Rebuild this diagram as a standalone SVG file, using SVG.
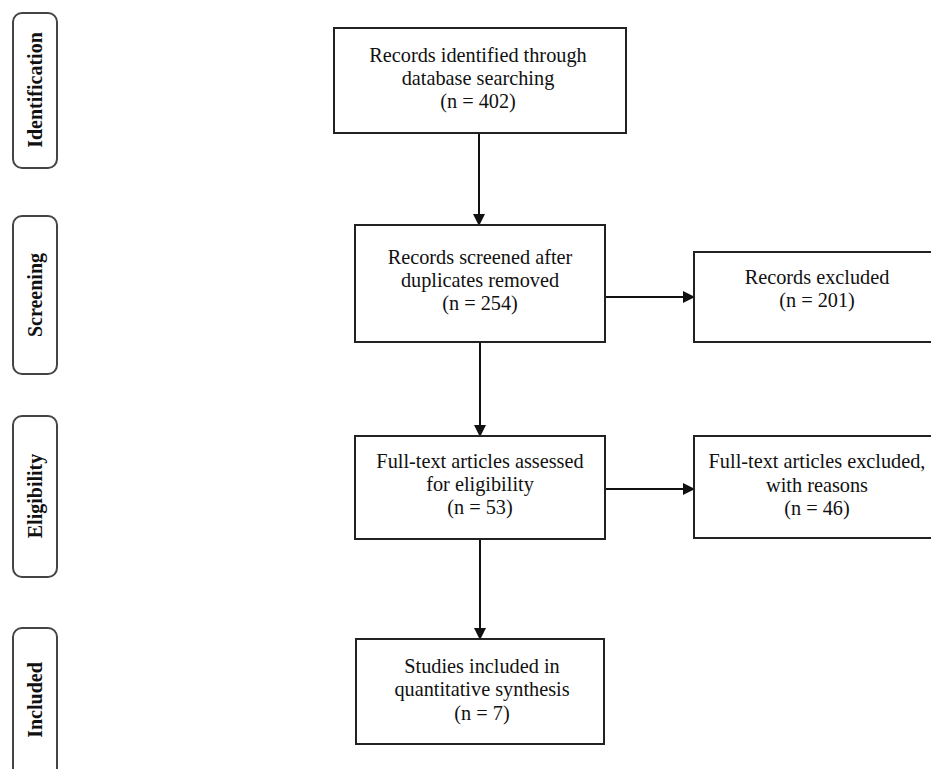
<svg xmlns="http://www.w3.org/2000/svg" width="931" height="769" viewBox="0 0 931 769">
<style>
.box{fill:#fff;stroke:#222;stroke-width:2}
.side{fill:#fff;stroke:#444;stroke-width:2}
.t{font-family:"Liberation Serif","Times New Roman",serif;font-size:20.3px;fill:#111;text-anchor:middle}
.s{font-family:"Liberation Serif","Times New Roman",serif;font-size:20px;font-weight:bold;fill:#111;text-anchor:middle}
.c{stroke:#111;stroke-width:2;fill:none;marker-end:url(#ah)}
</style>
<defs>
<marker id="ah" markerWidth="12" markerHeight="12" refX="11" refY="6" orient="auto" markerUnits="userSpaceOnUse">
<path d="M0,0 L12,6 L0,12 Z" fill="#111"/>
</marker>
</defs>
<rect width="931" height="769" fill="#fff"/>
<g id="identification"><rect class="side" x="13" y="13" width="44" height="155" rx="9"/><text class="s" transform="translate(42,90) rotate(-90)">Identification</text></g>
<g id="screening"><rect class="side" x="13" y="216" width="44" height="158" rx="9"/><text class="s" transform="translate(42,295) rotate(-90)">Screening</text></g>
<g id="eligibility"><rect class="side" x="13" y="416" width="44" height="161" rx="9"/><text class="s" transform="translate(42,496) rotate(-90)">Eligibility</text></g>
<g id="included"><rect class="side" x="13" y="628" width="44" height="160" rx="9"/><text class="s" transform="translate(42,700) rotate(-90)">Included</text></g>
<g id="connectors">
<line class="c" x1="479" y1="133" x2="479" y2="225"/>
<line class="c" x1="480" y1="342" x2="480" y2="436"/>
<line class="c" x1="480" y1="539" x2="480" y2="639"/>
<line class="c" x1="605" y1="297" x2="694" y2="297"/>
<line class="c" x1="605" y1="489" x2="694" y2="489"/>
</g>
<g id="n1"><rect class="box" x="334" y="28" width="292" height="105"/><text class="t" x="478" y="62">Records identified through</text><text class="t" x="478" y="85">database searching</text><text class="t" x="478" y="108">(n = 402)</text></g>
<g id="n2"><rect class="box" x="355" y="225" width="250" height="117"/><text class="t" x="480" y="264">Records screened after</text><text class="t" x="480" y="287">duplicates removed</text><text class="t" x="480" y="310">(n = 254)</text></g>
<g id="n3"><rect class="box" x="694" y="252" width="250" height="90"/><text class="t" x="817" y="284">Records excluded</text><text class="t" x="817" y="307">(n = 201)</text></g>
<g id="n4"><rect class="box" x="355" y="436" width="250" height="103"/><text class="t" x="480" y="468">Full-text articles assessed</text><text class="t" x="480" y="491">for eligibility</text><text class="t" x="480" y="514">(n = 53)</text></g>
<g id="n5"><rect class="box" x="694" y="436" width="250" height="102"/><text class="t" x="817" y="468">Full-text articles excluded,</text><text class="t" x="817" y="492">with reasons</text><text class="t" x="817" y="515">(n = 46)</text></g>
<g id="n6"><rect class="box" x="356" y="639" width="248" height="105"/><text class="t" x="482" y="673">Studies included in</text><text class="t" x="482" y="696">quantitative synthesis</text><text class="t" x="482" y="720">(n = 7)</text></g>
</svg>
